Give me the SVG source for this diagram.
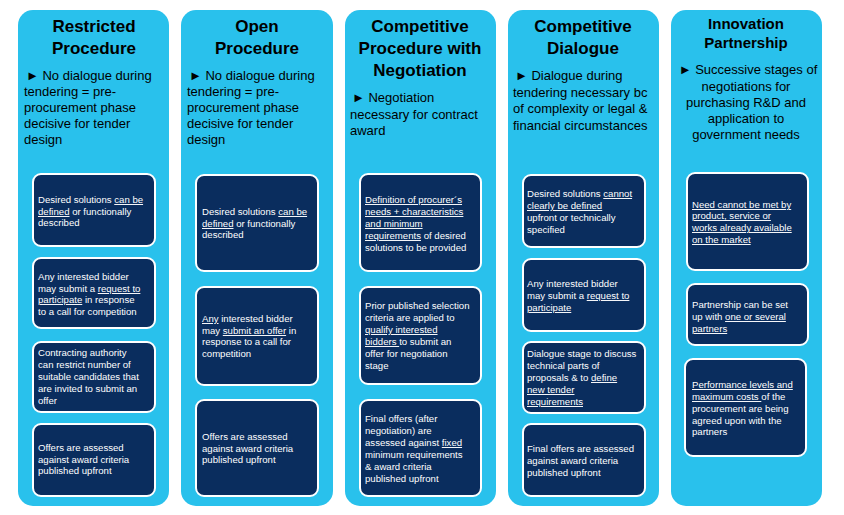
<svg xmlns="http://www.w3.org/2000/svg" width="844" height="515" viewBox="0 0 844 515">
<style>
.col{fill:#29C1EC;}
.box{fill:#0A2D5E;stroke:#fff;stroke-width:2;}
.t{font-family:"Liberation Sans",Arial,sans-serif;font-weight:bold;font-size:17px;fill:#000;text-anchor:middle;}
.t5{font-family:"Liberation Sans",Arial,sans-serif;font-weight:bold;font-size:15px;fill:#000;text-anchor:middle;}
.b{font-family:"Liberation Sans",Arial,sans-serif;font-size:13px;fill:#000;}
.s{font-family:"Liberation Sans",Arial,sans-serif;font-size:9.6px;fill:#fff;}
.u{text-decoration:underline;}
</style>
<rect width="844" height="515" fill="#fff"/>
<g id="restricted">
<rect class="col" x="18" y="10" width="151" height="496" rx="15"/>
<text class="t" x="94" y="32">Restricted</text><text class="t" x="94" y="54">Procedure</text>
<text class="b"><tspan x="26" y="80">► No dialogue during</tspan><tspan x="24" y="96">tendering = pre-</tspan><tspan x="24" y="112">procurement phase</tspan><tspan x="24" y="128">decisive for tender</tspan><tspan x="24" y="144">design</tspan></text>
<rect class="box" x="33" y="174" width="122" height="72" rx="8"/>
<text class="s"><tspan x="38" y="203">Desired solutions <tspan class="u">can be</tspan></tspan><tspan x="38" y="215"><tspan class="u">defined</tspan> or functionally</tspan><tspan x="38" y="226">described</tspan></text>
<rect class="box" x="33" y="258" width="122" height="70" rx="8"/>
<text class="s"><tspan x="38" y="280">Any interested bidder</tspan><tspan x="38" y="292">may submit a <tspan class="u">request to</tspan></tspan><tspan x="38" y="303"><tspan class="u">participate</tspan> in response</tspan><tspan x="38" y="315">to a call for competition</tspan></text>
<rect class="box" x="33" y="342" width="122" height="70" rx="8"/>
<text class="s"><tspan x="38" y="356">Contracting authority</tspan><tspan x="38" y="368">can restrict number of</tspan><tspan x="38" y="380">suitable candidates that</tspan><tspan x="38" y="392">are invited to submit an</tspan><tspan x="38" y="404">offer</tspan></text>
<rect class="box" x="33" y="424" width="122" height="72" rx="8"/>
<text class="s"><tspan x="38" y="451">Offers are assessed</tspan><tspan x="38" y="463">against award criteria</tspan><tspan x="38" y="474">published upfront</tspan></text>
</g>
<g id="open">
<rect class="col" x="181" y="10" width="152" height="496" rx="15"/>
<text class="t" x="257" y="32">Open</text><text class="t" x="257" y="54">Procedure</text>
<text class="b"><tspan x="189" y="80">► No dialogue during</tspan><tspan x="187" y="96">tendering = pre-</tspan><tspan x="187" y="112">procurement phase</tspan><tspan x="187" y="128">decisive for tender</tspan><tspan x="187" y="144">design</tspan></text>
<rect class="box" x="196" y="175" width="122" height="96" rx="8"/>
<text class="s"><tspan x="202" y="215">Desired solutions <tspan class="u">can be</tspan></tspan><tspan x="202" y="227"><tspan class="u">defined</tspan> or functionally</tspan><tspan x="202" y="238">described</tspan></text>
<rect class="box" x="196" y="287" width="122" height="98" rx="8"/>
<text class="s"><tspan x="202" y="322"><tspan class="u">Any</tspan> interested bidder</tspan><tspan x="202" y="334">may <tspan class="u">submit an offer</tspan> in</tspan><tspan x="202" y="345">response to a call for</tspan><tspan x="202" y="357">competition</tspan></text>
<rect class="box" x="196" y="400" width="122" height="96" rx="8"/>
<text class="s"><tspan x="202" y="440">Offers are assessed</tspan><tspan x="202" y="452">against award criteria</tspan><tspan x="202" y="463">published upfront</tspan></text>
</g>
<g id="negotiation">
<rect class="col" x="345" y="10" width="151" height="496" rx="15"/>
<text class="t" x="420" y="32">Competitive</text><text class="t" x="420" y="54">Procedure with</text><text class="t" x="420" y="76">Negotiation</text>
<text class="b"><tspan x="352" y="102">► Negotiation</tspan><tspan x="350" y="119">necessary for contract</tspan><tspan x="350" y="135">award</tspan></text>
<rect class="box" x="360" y="174" width="121" height="97" rx="8"/>
<text class="s"><tspan x="365" y="203" class="u">Definition of procurer´s</tspan><tspan x="365" y="215" class="u">needs + characteristics</tspan><tspan x="365" y="227" class="u">and minimum</tspan><tspan x="365" y="239"><tspan class="u">requirements</tspan> of desired</tspan><tspan x="365" y="251">solutions to be provided</tspan></text>
<rect class="box" x="360" y="287" width="121" height="97" rx="8"/>
<text class="s"><tspan x="365" y="309">Prior published selection</tspan><tspan x="365" y="321">criteria are applied to</tspan><tspan x="365" y="333" class="u">qualify interested</tspan><tspan x="365" y="345"><tspan class="u">bidders </tspan>to submit an</tspan><tspan x="365" y="357">offer for negotiation</tspan><tspan x="365" y="369">stage</tspan></text>
<rect class="box" x="360" y="400" width="121" height="96" rx="8"/>
<text class="s"><tspan x="365" y="422">Final offers (after</tspan><tspan x="365" y="434">negotiation) are</tspan><tspan x="365" y="446">assessed against <tspan class="u">fixed</tspan></tspan><tspan x="365" y="458">minimum requirements</tspan><tspan x="365" y="470">&amp; award criteria</tspan><tspan x="365" y="482">published upfront</tspan></text>
</g>
<g id="dialogue">
<rect class="col" x="508" y="10" width="151" height="496" rx="15"/>
<text class="t" x="583" y="32">Competitive</text><text class="t" x="583" y="54">Dialogue</text>
<text class="b"><tspan x="515" y="80">► Dialogue during</tspan><tspan x="513" y="97">tendering necessary bc</tspan><tspan x="513" y="113">of complexity or legal &amp;</tspan><tspan x="513" y="130">financial circumstances</tspan></text>
<rect class="box" x="523" y="175" width="122" height="72" rx="8"/>
<text class="s"><tspan x="527" y="197">Desired solutions <tspan class="u">cannot</tspan></tspan><tspan x="527" y="209" class="u">clearly be defined</tspan><tspan x="527" y="221">upfront or technically</tspan><tspan x="527" y="233">specified</tspan></text>
<rect class="box" x="523" y="259" width="122" height="72" rx="8"/>
<text class="s"><tspan x="527" y="287">Any interested bidder</tspan><tspan x="527" y="299">may submit a <tspan class="u">request to</tspan></tspan><tspan x="527" y="311" class="u">participate</tspan></text>
<rect class="box" x="523" y="342" width="122" height="71" rx="8"/>
<text class="s"><tspan x="527" y="357">Dialogue stage to discuss</tspan><tspan x="527" y="369">technical parts of</tspan><tspan x="527" y="381">proposals &amp; to <tspan class="u">define</tspan></tspan><tspan x="527" y="393" class="u">new tender</tspan><tspan x="527" y="405" class="u">requirements</tspan></text>
<rect class="box" x="523" y="424" width="122" height="72" rx="8"/>
<text class="s"><tspan x="527" y="452">Final offers are assessed</tspan><tspan x="527" y="464">against award criteria</tspan><tspan x="527" y="476">published upfront</tspan></text>
</g>
<g id="innovation">
<rect class="col" x="671" y="10" width="151" height="496" rx="15"/>
<text class="t5" x="746" y="29">Innovation</text><text class="t5" x="746" y="48">Partnership</text>
<text class="b" text-anchor="middle"><tspan x="748" y="74">► Successive stages of</tspan><tspan x="746" y="91">negotiations for</tspan><tspan x="746" y="107">purchasing R&amp;D and</tspan><tspan x="746" y="123">application to</tspan><tspan x="746" y="139">government needs</tspan></text>
<rect class="box" x="687" y="173" width="121" height="97" rx="8"/>
<text class="s"><tspan x="692" y="208" class="u">Need cannot be met by</tspan><tspan x="692" y="219" class="u">product, service or</tspan><tspan x="692" y="231" class="u">works already available</tspan><tspan x="692" y="243" class="u">on the market</tspan></text>
<rect class="box" x="687" y="284" width="121" height="61" rx="8"/>
<text class="s"><tspan x="692" y="308">Partnership can be set</tspan><tspan x="692" y="320">up with <tspan class="u">one or several</tspan></tspan><tspan x="692" y="332" class="u">partners</tspan></text>
<rect class="box" x="685" y="359" width="121" height="97" rx="8"/>
<text class="s"><tspan x="692" y="388" class="u">Performance levels and</tspan><tspan x="692" y="400"><tspan class="u">maximum costs </tspan>of the</tspan><tspan x="692" y="412">procurement are being</tspan><tspan x="692" y="424">agreed upon with the</tspan><tspan x="692" y="435">partners</tspan></text>
</g>
<g id="connectors"></g>
</svg>
